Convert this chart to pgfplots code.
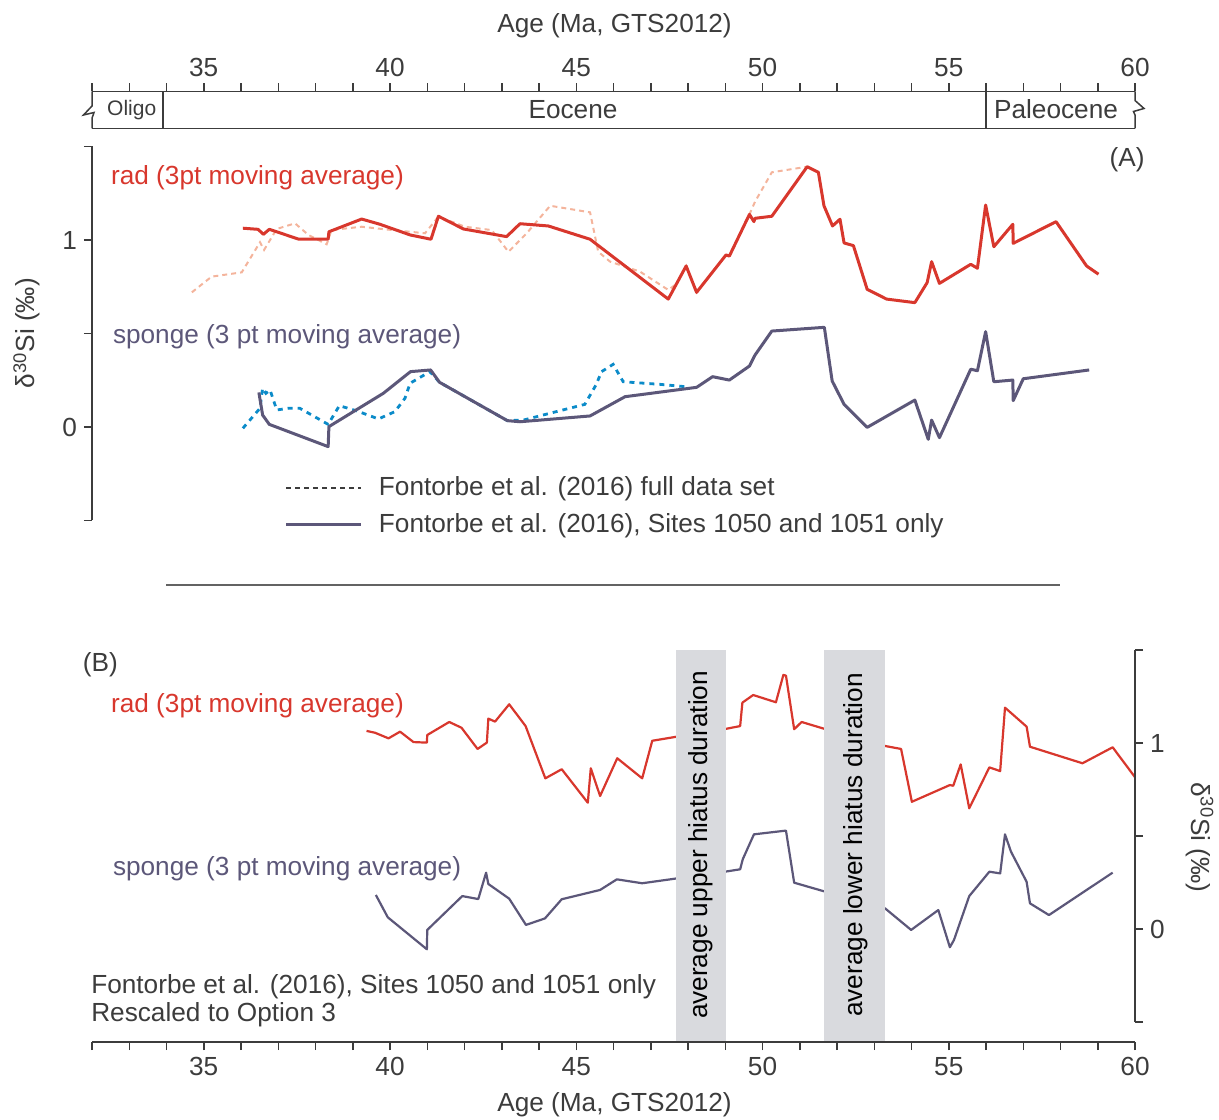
\documentclass[border=0pt]{standalone}
\usepackage{fontspec}
\setmainfont{Liberation Sans}
\usepackage{pgfplots}
\usepackage{pgfplotstable}
\pgfplotsset{compat=1.18}

\definecolor{txt}{HTML}{3C3C3C}
\definecolor{radred}{HTML}{D8372D}
\definecolor{radpink}{HTML}{F4B49C}
\definecolor{sponge}{HTML}{5C5779}
\definecolor{spblue}{HTML}{0B8BC9}
\definecolor{hiatus}{HTML}{D9DADE}

% (A) radiolarian d30Si, 3pt moving average, Sites 1050/1051 only
\pgfplotstableread{
age val
36.05 1.063
36.46 1.057
36.60 1.030
36.76 1.057
37.54 1.005
38.34 1.004
38.36 1.044
39.24 1.112
39.73 1.084
40.54 1.027
41.10 1.004
41.30 1.127
41.97 1.059
43.13 1.018
43.49 1.087
44.25 1.075
45.37 1.004
47.47 0.684
47.95 0.861
48.23 0.720
49.02 0.920
49.11 0.914
49.65 1.137
49.77 1.098
49.80 1.116
50.25 1.127
51.20 1.392
51.50 1.362
51.65 1.183
51.88 1.075
52.08 1.111
52.19 0.984
52.44 0.970
52.81 0.736
53.33 0.684
54.09 0.665
54.42 0.772
54.54 0.884
54.75 0.768
55.59 0.870
55.77 0.849
55.99 1.187
56.21 0.964
56.72 1.084
56.73 0.982
57.88 1.098
58.70 0.861
59.02 0.817
}\radA

% (A) radiolarian, full data set
\pgfplotstableread{
age val
34.68 0.720
35.21 0.804
36.02 0.827
36.51 0.988
36.62 0.947
36.96 1.059
37.45 1.089
37.81 1.027
38.30 0.977
38.43 1.053
39.24 1.071
39.78 1.059
40.94 1.036
41.30 1.125
42.01 1.071
42.73 1.053
43.18 0.937
43.67 1.036
44.30 1.183
45.37 1.148
45.59 0.937
45.91 0.884
46.71 0.831
47.47 0.733
47.69 0.765
47.95 0.861
48.23 0.720
49.02 0.920
49.11 0.914
49.65 1.137
49.80 1.205
50.25 1.362
51.20 1.392
}\radfullA

% (A) sponge, Sites 1050/1051 only
\pgfplotstableread{
age val
36.48 0.185
36.58 0.064
36.76 0.014
38.34 -0.105
38.36 0.002
39.82 0.180
40.55 0.296
41.09 0.305
41.33 0.239
43.15 0.034
43.49 0.028
45.37 0.059
46.31 0.162
48.23 0.212
48.66 0.269
49.11 0.251
49.65 0.326
49.80 0.385
50.25 0.513
51.66 0.533
51.87 0.246
52.19 0.121
52.81 -0.002
54.09 0.144
54.45 -0.066
54.54 0.037
54.75 -0.057
55.59 0.309
55.77 0.301
55.99 0.510
56.21 0.242
56.72 0.251
56.73 0.141
57.00 0.258
58.77 0.305
}\spA

% (A) sponge, full data set
\pgfplotstableread{
age val
36.05 -0.007
36.51 0.100
36.58 0.207
36.67 0.180
36.78 0.198
36.96 0.091
37.27 0.100
37.58 0.100
38.34 0.014
38.64 0.114
39.11 0.086
39.69 0.043
40.13 0.082
40.40 0.153
40.54 0.234
41.07 0.296
41.33 0.239
43.15 0.034
43.58 0.037
45.23 0.121
45.53 0.225
45.68 0.296
45.99 0.335
46.26 0.242
47.25 0.228
47.96 0.215
}\spfullA

% (B) radiolarian, rescaled to Option 3
\pgfplotstableread{
age val
39.37 1.065
39.60 1.055
39.96 1.025
40.27 1.061
40.63 1.005
40.99 1.002
41.00 1.043
41.59 1.113
41.92 1.082
42.35 0.968
42.60 1.002
42.64 1.131
42.82 1.115
43.20 1.208
43.64 1.091
44.17 0.810
44.61 0.859
45.31 0.679
45.39 0.864
45.64 0.715
46.10 0.918
46.77 0.810
47.04 1.012
47.70 1.034
48.99 1.075
49.40 1.091
49.46 1.217
49.75 1.258
50.36 1.219
50.56 1.366
50.63 1.362
50.85 1.074
51.05 1.113
51.68 1.075
53.29 0.984
53.72 0.968
54.01 0.684
55.03 0.774
55.12 0.770
55.32 0.885
55.55 0.649
56.09 0.869
56.38 0.849
56.51 1.190
57.09 1.088
57.18 0.980
58.59 0.891
59.40 0.977
60.00 0.816
}\radB

% (B) sponge, rescaled to Option 3
\pgfplotstableread{
age val
39.62 0.183
39.94 0.063
40.99 -0.109
41.00 -0.005
41.94 0.177
42.37 0.161
42.58 0.303
42.64 0.242
43.20 0.163
43.65 0.022
44.16 0.057
44.61 0.160
45.64 0.210
46.09 0.267
46.77 0.246
47.70 0.272
48.99 0.308
49.40 0.321
49.47 0.375
49.77 0.509
50.63 0.529
50.85 0.249
51.68 0.201
53.29 0.111
53.99 -0.005
54.72 0.102
55.03 -0.098
55.14 -0.059
55.55 0.177
56.09 0.308
56.38 0.299
56.51 0.509
56.67 0.416
57.09 0.254
57.18 0.138
57.69 0.075
59.40 0.303
}\spB

\newcommand{\mainsize}{\fontsize{13.1}{15}\selectfont}
\newcommand{\dsi}{\mbox{δ\textsuperscript{30}Si (‰)}}

\pgfplotsset{
  base/.style={
    scale only axis, width=521.5pt, xmin=32, xmax=60, clip=false,
    anchor=south west,
    axis line style={txt, line width=0.75pt, -},
    tick style={txt, line width=0.75pt},
    tick align=outside,
    major tick length=4pt, minor tick length=4pt,
    ticklabel style={font=\mainsize, text=txt},
    /pgf/number format/assume math mode=true,
  },
}

\begin{document}
\begin{tikzpicture}[font=\mainsize, text=txt, lab/.style={inner sep=0pt}]
\useasboundingbox (0,0) rectangle (609.5pt,559.5pt);

% ---- top age scale with epoch band ----
\begin{axis}[base, at={(46pt,495.35pt)}, height=18.4pt, ymin=0, ymax=1,
  axis x line*=top, axis y line=none,
  xtick={35,40,...,60}, minor xtick={32,...,60}]
\end{axis}
\begin{scope}[txt, line width=0.75pt, line join=miter]
  \draw (46pt,495.35pt) -- (567.5pt,495.35pt);
  \draw (81.4pt,495.35pt) -- (81.4pt,513.75pt);
  \draw (493pt,495.35pt) -- (493pt,513.75pt);
  \draw (46pt,513.75pt) -- ++(0pt,-7.25pt) -- ++(-4.25pt,-4.5pt)
     -- ++(5.25pt,1.25pt) -- ++(-1pt,-2.9pt) -- (46pt,495.35pt);
  \draw (567.5pt,513.75pt) -- ++(0pt,-4.5pt) -- ++(4.5pt,-4pt)
     -- ++(-5.25pt,-1.5pt) -- ++(0.75pt,-1.75pt) -- (567.5pt,495.35pt);
\end{scope}
\node[lab, anchor=base] at (307.25pt,543.35pt) {Age (Ma, GTS2012)};
\node[lab, anchor=base, font=\fontsize{10.5}{12}\selectfont] at (65.85pt,501.5pt) {Oligo};
\node[lab, anchor=base] at (286.5pt,500.35pt) {Eocene};
\node[lab, anchor=base] at (528pt,500.35pt) {Paleocene};

% ---- panel (A) ----
\begin{axis}[base, at={(46pt,299.25pt)}, height=187pt, ymin=-0.5, ymax=1.5,
  axis x line=none, axis y line*=left,
  ytick={-0.5,0,0.5,1,1.5}, yticklabels={,0,,1,},
  legend image code/.code={\draw[#1] (0pt,0pt) -- (37.5pt,0pt);},
  legend cell align=left,
  legend style={draw=none, fill=none, inner sep=0pt, outer sep=0pt,
    at={(0.185,0.117)}, anchor=north west,
    nodes={inner sep=0pt, font=\mainsize, text=txt},
    column sep=8pt, row sep=7.5pt}]
  \addlegendimage{txt, line width=1pt, dash pattern=on 2.5pt off 2pt}
  \addlegendentry{Fontorbe et al. (2016) full data set}
  \addlegendimage{sponge, line width=1.5pt}
  \addlegendentry{Fontorbe et al. (2016), Sites 1050 and 1051 only}
  \addplot[forget plot, radpink, line width=1pt, dash pattern=on 2.5pt off 2pt] table[x=age,y=val] {\radfullA};
  \addplot[forget plot, spblue, line width=1.4pt, dash pattern=on 2.5pt off 2.5pt] table[x=age,y=val] {\spfullA};
  \addplot[forget plot, radred, line width=1.5pt, line join=round] table[x=age,y=val] {\radA};
  \addplot[forget plot, sponge, line width=1.5pt, line join=round] table[x=age,y=val] {\spA};
\end{axis}
\node[lab, anchor=base west, text=radred] at (55.35pt,467pt) {rad (3pt moving average)};
\node[lab, anchor=base west, text=sponge] at (56.3pt,387.85pt) {sponge (3 pt moving average)};
\node[lab, anchor=base] at (563.5pt,476pt) {(A)};
\node[lab, rotate=90] at (13.35pt,392.85pt) {\dsi};

% separator
\draw[txt!80, line width=0.6pt] (83pt,267pt) -- (530pt,267pt);

% ---- panel (B) ----
\begin{axis}[base, at={(46pt,38.5pt)}, height=196pt, ymin=-0.6075, ymax=1.5,
  axis on top, axis x line*=bottom, axis y line=none,
  xtick={35,40,...,60}, minor xtick={32,...,60}]
  \addplot[radred, line width=1.1pt, line join=round] table[x=age,y=val] {\radB};
  \addplot[sponge, line width=1.1pt, line join=round] table[x=age,y=val] {\spB};
  % average hiatus durations
  \addplot[fill=hiatus, draw=none] coordinates {(47.68,-0.6075) (47.68,1.5) (49.02,1.5) (49.02,-0.6075)} -- cycle;
  \addplot[fill=hiatus, draw=none] coordinates {(51.65,-0.6075) (51.65,1.5) (53.29,1.5) (53.29,-0.6075)} -- cycle;
  \node[rotate=90, text=black] at (axis cs:48.335,0.452) {average upper hiatus duration};
  \node[rotate=90, text=black] at (axis cs:52.50,0.452) {average lower hiatus duration};
\end{axis}
\begin{axis}[base, at={(46pt,48.5pt)}, height=186pt, ymin=-0.5, ymax=1.5,
  axis x line=none, axis y line*=right,
  ytick={-0.5,0,0.5,1,1.5}, yticklabels={,0,,1,}]
\end{axis}
\node[lab, anchor=base] at (50.2pt,223.65pt) {(B)};
\node[lab, anchor=base west, text=radred] at (55.35pt,203.15pt) {rad (3pt moving average)};
\node[lab, anchor=base west, text=sponge] at (56.3pt,122pt) {sponge (3 pt moving average)};
\node[lab, anchor=base west] at (45.45pt,62.85pt) {Fontorbe et al. (2016), Sites 1050 and 1051 only};
\node[lab, anchor=base west] at (45.45pt,48.65pt) {Rescaled to Option 3};
\node[lab, rotate=-90] at (600pt,140.75pt) {\dsi};
\node[lab, anchor=base] at (307.25pt,4pt) {Age (Ma, GTS2012)};
\end{tikzpicture}
\end{document}
